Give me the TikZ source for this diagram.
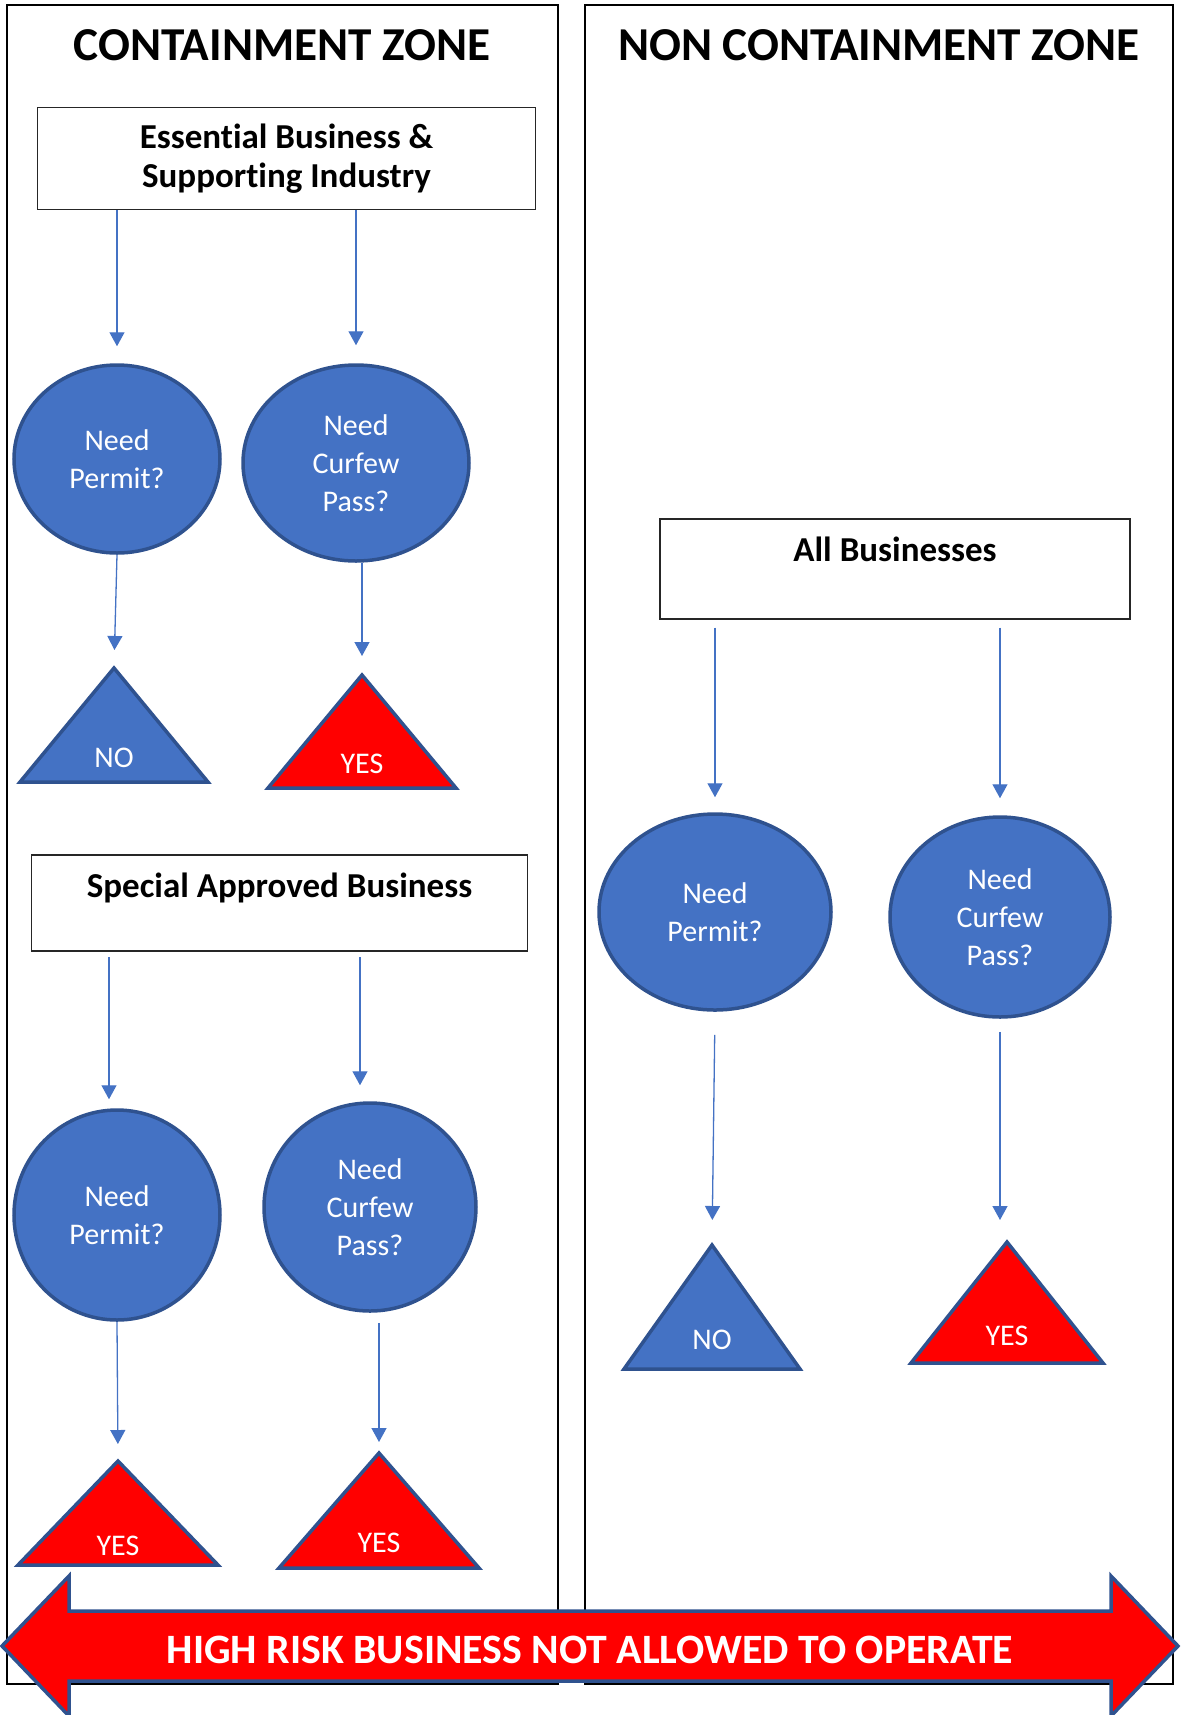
\documentclass[tikz,border=0pt]{standalone}
\usepackage{fontspec}
\setmainfont{Carlito}[Ligatures=NoCommon]
\usetikzlibrary{shapes.geometric,arrows.meta}
\definecolor{askfill}{HTML}{4472C4}
\definecolor{askline}{HTML}{2F528F}
\definecolor{nored}{HTML}{FF0000}
\tikzset{
	zone/.style={draw=black, line width=1.2pt},
	zonetitle/.style={anchor=base, font=\bfseries\fontsize{23.6}{28}\selectfont},
	bizbox/.style={draw=black!85, line width=0.7pt, inner sep=0pt, font=\bfseries\fontsize{17.5}{19.5}\selectfont},
	ask/.style={ellipse, draw=askline, line width=1.75pt, fill=askfill, text=white, inner sep=0pt, align=center, font=\fontsize{15}{19}\selectfont},
	notri/.style={draw=askline, line width=1.75pt, fill=askfill},
	yestri/.style={draw=askline, line width=1.75pt, fill=nored},
	answer/.style={anchor=base, text=white, font=\fontsize{15}{19}\selectfont},
	flow/.style={draw=askfill, line width=0.65pt, -{Triangle[width=7.5pt,length=7pt]}},
	bigarrow/.style={draw=askline, line width=1.75pt, fill=nored},
	risktext/.style={anchor=base, text=white, font=\bfseries\fontsize{20.9}{25}\selectfont}
}
\begin{document}
\begin{tikzpicture}[x=0.5pt,y=-0.5pt]
	\useasboundingbox (0,0) rectangle (1180,1715);
	% the two zones
	\draw[zone] (7,5) rectangle (558,1684);
	\draw[zone] (585,5) rectangle (1173,1684);
	\node	(cz) at (282,60) [zonetitle] {CONTAINMENT ZONE};
	\node	(ncz) at (879,60) [zonetitle] {NON CONTAINMENT ZONE};
	% containment zone
	\node	(esb) at (286.5,158.5) [bizbox, align=center, minimum width=249pt, minimum height=51pt] {Essential Business \&\\Supporting Industry};
	\node	(pe1) at (117,459) [ask, minimum width=103pt, minimum height=94pt] {Need\\Permit?};
	\node	(cp1) at (356,463) [ask, minimum width=113pt, minimum height=98pt] {Need\\Curfew\\Pass?};
	\coordinate (t1) at (114,668);
	\coordinate (t2) at (362,675);
	\draw[notri] (t1) -- ++(94,114) -- ++(-188,0) -- cycle;
	\draw[yestri] (t2) -- ++(94,113) -- ++(-188,0) -- cycle;
	\node	(no1) at (114,767) [answer] {NO};
	\node	(yes1) at (362,773) [answer] {YES};
	\node	(sab) at (279.5,897) [bizbox, anchor=base, text height=21pt, text depth=27pt, minimum width=248pt] {Special Approved Business};
	\coordinate (b1) at (109,957);
	\coordinate (b2) at (360,957);
	\node	(pe2) at (117,1215) [ask, minimum width=103pt, minimum height=105pt] {Need\\Permit?};
	\node	(cp2) at (370,1207) [ask, minimum width=106pt, minimum height=104pt] {Need\\Curfew\\Pass?};
	\coordinate (t3) at (118,1461);
	\coordinate (t4) at (379,1453);
	\draw[yestri] (t3) -- ++(100,104) -- ++(-200,0) -- cycle;
	\draw[yestri] (t4) -- ++(100,115) -- ++(-200,0) -- cycle;
	\node	(yes2) at (118,1555) [answer] {YES};
	\node	(yes3) at (379,1552) [answer] {YES};
	% non containment zone
	\node	(allb) at (895,561) [bizbox, anchor=base, text height=21pt, text depth=29pt, minimum width=235pt] {All Businesses};
	\node	(pe3) at (715,912) [ask, minimum width=116pt, minimum height=98pt] {Need\\Permit?};
	\node	(cp3) at (1000,917) [ask, minimum width=110pt, minimum height=100pt] {Need\\Curfew\\Pass?};
	\coordinate (t5) at (712,1245);
	\coordinate (t6) at (1007,1242);
	\draw[notri] (t5) -- ++(88,124) -- ++(-176,0) -- cycle;
	\draw[yestri] (t6) -- ++(96,121) -- ++(-192,0) -- cycle;
	\node	(no2) at (712,1349) [answer] {NO};
	\node	(yes4) at (1007,1345) [answer] {YES};
	\draw
	(esb.south -| pe1) edge[flow, shorten >=8.5pt] (pe1.north)
	(esb.south -| cp1) edge[flow, shorten >=9pt] (cp1.north)
	(pe1.south) edge[flow, shorten >=9pt] (t1)
	(cp1.south -| t2) edge[flow, shorten >=9.5pt] (t2)
	(b1) edge[flow, shorten >=4.5pt] (b1 |- pe2.north)
	(b2) edge[flow, shorten >=8pt] (b2 |- cp2.north)
	(pe2.south) edge[flow, shorten >=8.5pt] (t3)
	(cp2.south -| t4) edge[flow, shorten <=5pt, shorten >=5.5pt] (t4)
	(allb.south -| pe3) edge[flow, shorten <=4pt, shorten >=7.5pt] (pe3.north)
	(allb.south -| cp3) edge[flow, shorten <=4pt, shorten >=8.5pt] (cp3.north)
	(pe3.south) edge[flow, shorten <=11.5pt, shorten >=12.5pt] (t5)
	(cp3.south) edge[flow, shorten <=6.5pt, shorten >=11pt] (cp3.south |- t6)
	;
	% banner across both zones
	\draw[bigarrow] (2,1646) -- (69,1576) -- (69,1611) -- (1111,1611) -- (1111,1576) -- (1178,1646) -- (1111,1716) -- (1111,1681) -- (69,1681) -- (69,1716) -- cycle;
	\node	(risk) at (590,1663) [risktext] {HIGH RISK BUSINESS NOT ALLOWED TO OPERATE};
\end{tikzpicture}
\end{document}
